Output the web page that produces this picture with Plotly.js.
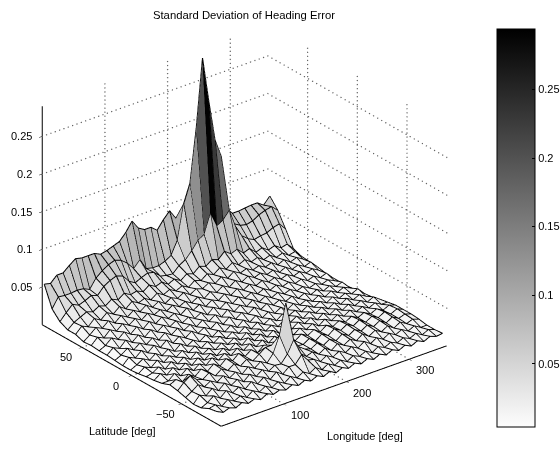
<!DOCTYPE html>
<html><head><meta charset="utf-8">
<script src="https://cdn.plot.ly/plotly-3.0.1.min.js"></script>
<style>html,body{margin:0;padding:0;background:#fff}</style></head>
<body><div id="chart" style="width:560px;height:452px"></div>
<script>
const longitude = [0,10,20,30,40,50,60,70,80,90,100,110,120,130,140,150,160,170,180,190,200,210,220,230,240,250,260,270,280,290,300,310,320,330,340,350,360];
const latitude = [88,80.1,72.2,64.3,56.4,48.5,40.6,32.7,24.8,16.9,9,1.1,-6.8,-14.7,-22.6,-30.5,-38.4,-46.3,-54.2,-62.1,-70,-77.9,-85.8];
const R00 = [.055,.053,.061,.061,.068,.074,.072,.072,.072,.068,.070,.073,.076,.085,.097,.085,.080,.080,.073,.084,.093,.080,.090,.100,.105,.100,.090,.075,.090,.070,.060,.060,.061,.062,.062,.056,.065];
const R01 = [.028,.041,.040,.040,.041,.040,.036,.048,.055,.060,.063,.060,.053,.043,.052,.037,.035,.035,.038,.043,.060,.105,.130,.200,.290,.230,.175,.150,.075,.055,.050,.048,.050,.055,.058,.060,.052];
const R02 = [.017,.026,.034,.030,.033,.037,.034,.043,.048,.051,.048,.038,.033,.037,.040,.038,.030,.028,.027,.035,.040,.049,.060,.065,.090,.070,.075,.085,.060,.045,.038,.034,.036,.037,.041,.043,.033];
const R03 = [.012,.019,.023,.027,.024,.029,.026,.032,.028,.034,.029,.031,.027,.033,.028,.031,.025,.029,.024,.030,.027,.034,.031,.037,.034,.042,.036,.039,.031,.034,.026,.029,.023,.026,.020,.022,.013];
const R04 = [.012,.020,.016,.024,.019,.026,.021,.028,.022,.029,.024,.027,.022,.028,.023,.027,.022,.026,.021,.027,.024,.030,.026,.032,.027,.033,.027,.031,.025,.028,.022,.025,.019,.022,.016,.018,.009];
const R05 = [.008,.014,.021,.017,.024,.018,.025,.020,.026,.021,.027,.021,.026,.020,.025,.021,.026,.020,.025,.022,.027,.023,.029,.024,.030,.025,.028,.023,.026,.021,.024,.018,.022,.016,.019,.014,.008];
const R06 = [.009,.017,.013,.021,.016,.023,.018,.024,.019,.025,.020,.024,.019,.024,.019,.023,.018,.023,.018,.024,.020,.026,.021,.027,.022,.027,.022,.025,.020,.023,.017,.021,.015,.018,.013,.016,.007];
const R07 = [.008,.012,.019,.014,.021,.015,.022,.016,.023,.017,.023,.018,.022,.017,.023,.017,.022,.016,.022,.018,.024,.019,.025,.020,.025,.020,.024,.019,.022,.017,.020,.015,.018,.013,.016,.011,.005];
const R08 = [.008,.015,.011,.019,.013,.020,.014,.021,.015,.021,.016,.021,.015,.020,.015,.020,.014,.021,.016,.022,.017,.023,.018,.023,.018,.022,.017,.021,.016,.019,.014,.017,.012,.015,.010,.013,.004];
const R09 = [.007,.011,.017,.012,.018,.013,.019,.013,.020,.014,.020,.014,.019,.013,.019,.014,.020,.014,.021,.015,.021,.016,.022,.016,.021,.016,.020,.015,.018,.013,.016,.011,.014,.010,.013,.009,.004];
const R10 = [.006,.014,.010,.017,.011,.018,.012,.019,.012,.018,.013,.019,.013,.018,.013,.019,.013,.020,.014,.020,.015,.021,.015,.020,.015,.019,.014,.018,.012,.016,.011,.015,.010,.014,.010,.013,.004];
const R11 = [.006,.010,.015,.010,.016,.010,.016,.010,.017,.011,.016,.011,.017,.011,.017,.012,.018,.012,.019,.013,.019,.013,.018,.013,.018,.012,.017,.012,.016,.011,.016,.011,.016,.011,.015,.011,.006];
const R12 = [.007,.013,.009,.016,.010,.016,.011,.017,.011,.017,.011,.017,.012,.018,.012,.018,.013,.019,.013,.019,.013,.018,.012,.018,.013,.017,.012,.017,.012,.017,.012,.017,.012,.016,.012,.016,.007];
const R13 = [.009,.011,.016,.010,.017,.011,.017,.011,.018,.012,.017,.012,.018,.013,.019,.013,.020,.014,.019,.013,.018,.013,.019,.013,.018,.012,.018,.013,.018,.013,.018,.013,.018,.013,.017,.012,.008];
const R14 = [.010,.016,.011,.018,.012,.018,.012,.019,.013,.019,.013,.020,.014,.021,.015,.022,.015,.021,.014,.020,.013,.019,.013,.019,.014,.019,.013,.019,.014,.019,.014,.019,.014,.018,.013,.017,.011];
const R15 = [.012,.012,.019,.013,.020,.014,.020,.015,.022,.016,.022,.016,.023,.017,.023,.016,.022,.015,.021,.014,.020,.014,.020,.015,.020,.014,.020,.015,.020,.015,.020,.015,.019,.014,.018,.013,.013];
const R16 = [.016,.020,.014,.021,.015,.022,.016,.023,.017,.024,.018,.025,.018,.024,.017,.024,.017,.023,.016,.021,.015,.021,.016,.021,.015,.021,.016,.021,.016,.021,.016,.020,.015,.019,.014,.018,.015];
const R17 = [.014,.022,.028,.020,.017,.023,.016,.022,.017,.023,.017,.023,.018,.024,.030,.030,.030,.032,.022,.017,.016,.021,.015,.021,.016,.022,.017,.022,.017,.022,.016,.021,.016,.021,.015,.019,.015];
const R18 = [.011,.016,.022,.016,.021,.016,.022,.016,.021,.015,.022,.017,.023,.018,.028,.049,.089,.040,.025,.019,.016,.021,.015,.020,.015,.021,.016,.021,.016,.021,.016,.021,.015,.020,.015,.018,.015];
const R19 = [.008,.017,.013,.020,.014,.021,.015,.020,.014,.021,.015,.021,.016,.021,.020,.030,.046,.025,.018,.021,.015,.020,.014,.020,.015,.020,.015,.021,.015,.020,.015,.020,.014,.019,.014,.017,.014];
const R20 = [.009,.013,.019,.013,.020,.014,.019,.013,.020,.014,.020,.014,.021,.015,.022,.022,.032,.022,.020,.014,.019,.014,.019,.014,.019,.014,.020,.014,.019,.014,.019,.014,.018,.013,.017,.012,.012];
const R21 = [.014,.016,.011,.017,.012,.016,.011,.017,.012,.017,.012,.017,.012,.018,.013,.018,.013,.018,.012,.017,.012,.016,.011,.016,.012,.016,.011,.016,.012,.016,.012,.016,.012,.016,.011,.015,.012];
const R22 = [.016,.012,.015,.012,.016,.012,.015,.011,.016,.012,.015,.012,.016,.012,.016,.012,.016,.012,.016,.011,.015,.011,.015,.011,.015,.011,.015,.011,.015,.011,.015,.011,.015,.011,.015,.012,.013];
const lonTicks = [100,200,300];
const latTicks = [50,0,-50];
const latTickText = ['50','0','\u221250'];
const zTicks = [0.05,0.1,0.15,0.2,0.25];
const zTickText = ['0.05','0.1','0.15','0.2','0.25'];
const lonRange = [0,360], latRange = [-90,90], zRange = [0,0.29];
const barTicks = [0.05,0.1,0.15,0.2,0.25];
const errGrid = [R00,R01,R02,R03,R04,R05,R06,R07,R08,R09,R10,R11,R12,R13,R14,R15,R16,R17,R18,R19,R20,R21,R22];

// dotted walls and floor, made of tiny dots
const gx=[],gy=[],gz=[];
function dots(a,b,n){for(let i=0;i<=n;i++){const t=i/n;gx.push(a[0]+(b[0]-a[0])*t);gy.push(a[1]+(b[1]-a[1])*t);gz.push(a[2]+(b[2]-a[2])*t);}}
const L0=lonRange[0],L1=lonRange[1],A0=latRange[0],A1=latRange[1],Z0=zRange[0],Z1=zRange[1];
zTicks.forEach(z=>{dots([L0,A1,z],[L1,A1,z],52);dots([L1,A1,z],[L1,A0,z],44);});
lonTicks.forEach(x=>{dots([x,A1,Z0],[x,A1,Z1],54);dots([x,A0,Z0],[x,A1,Z0],44);});
latTicks.forEach(y=>{dots([L1,y,Z0],[L1,y,Z1],54);dots([L0,y,Z0],[L1,y,Z0],52);});
const gridTrace={type:'scatter3d',mode:'markers',x:gx,y:gy,z:gz,hoverinfo:'skip',showlegend:false,
  marker:{color:'#666',size:0.8,line:{width:0}}};
// box edges
const fx=[],fy=[],fz=[];
function edge(a,b){fx.push(a[0],b[0],null);fy.push(a[1],b[1],null);fz.push(a[2],b[2],null);}
edge([L0,A0,Z0],[L1,A0,Z0]);edge([L0,A0,Z0],[L0,A1,Z0]);edge([L0,A1,Z0],[L0,A1,Z1]);
const frameTrace={type:'scatter3d',mode:'lines',x:fx,y:fy,z:fz,hoverinfo:'skip',showlegend:false,
  line:{color:'#000',width:2}};
// flat-coloured quads: vertices, two triangles per cell, one intensity per triangle
const vx=[],vy=[],vz=[],ti=[],tj=[],tk=[],cellValue=[];
const nLat=latitude.length,nLon=longitude.length;
latitude.forEach((la,r)=>longitude.forEach((lo,c)=>{vx.push(lo);vy.push(la);vz.push(errGrid[r][c]);}));
for(let r=0;r<nLat-1;r++)for(let c=0;c<nLon-1;c++){
  const a=r*nLon+c,b=a+1,d=a+nLon,e=d+1;
  ti.push(a,b);tj.push(b,e);tk.push(d,d);
  cellValue.push(errGrid[r][c],errGrid[r][c]);
}
const surf={type:'mesh3d',x:vx,y:vy,z:vz,i:ti,j:tj,k:tk,intensity:cellValue,intensitymode:'cell',cmin:0.004,cmax:0.294,
  colorscale:[[0,'#fdfdfd'],[1,'#000000']],flatshading:true,
  lighting:{ambient:1,diffuse:0,specular:0,roughness:1,fresnel:0},
  hoverinfo:'skip',
  colorbar:{x:497/560,xanchor:'left',y:(452-228)/452,yanchor:'middle',thicknessmode:'pixels',thickness:38,
    lenmode:'pixels',len:398,xpad:0,ypad:0,outlinecolor:'#000',outlinewidth:1,
    tickvals:barTicks,ticktext:barTicks.map(String),ticks:'inside',ticklen:3,tickcolor:'#000',
    tickfont:{family:'Liberation Sans',size:11,color:'#000'}}};
// mesh edges along both grid directions
const mx=[],my=[],mz=[];
const lift=0.0004;
latitude.forEach((la,r)=>{longitude.forEach((lo,c)=>{mx.push(lo);my.push(la);mz.push(errGrid[r][c]+lift);});mx.push(null);my.push(null);mz.push(null);});
longitude.forEach((lo,c)=>{latitude.forEach((la,r)=>{mx.push(lo);my.push(la);mz.push(errGrid[r][c]+lift);});mx.push(null);my.push(null);mz.push(null);});
const meshTrace={type:'scatter3d',mode:'lines',x:mx,y:my,z:mz,hoverinfo:'skip',showlegend:false,
  connectgaps:false,line:{color:'#000',width:2}};
const font={family:'Liberation Sans',size:11,color:'#000'};
const ann=[];
lonTicks.forEach(x=>ann.push({x:x,y:A0,z:Z0,text:String(x),showarrow:false,xshift:16,yshift:-11,font:font}));
latTicks.forEach((y,i)=>ann.push({x:L0,y:y,z:Z0,text:latTickText[i],showarrow:false,xshift:-16,yshift:-10,font:font}));
zTicks.forEach((z,i)=>ann.push({x:L0,y:A1,z:z,text:zTickText[i],showarrow:false,xanchor:'right',xshift:-8,yshift:0,font:font}));
const axisOf=(r,t)=>({range:r,autorange:false,showgrid:false,zeroline:false,showbackground:false,showspikes:false,
  showline:false,ticks:'outside',ticklen:4,tickwidth:1,tickcolor:'#000',tickmode:'array',tickvals:t,showticklabels:false,title:{text:''}});
const layout={width:560,height:452,margin:{l:0,r:0,t:0,b:0,autoexpand:false},paper_bgcolor:'#fff',showlegend:false,
  title:{text:'Standard Deviation of Heading Error',x:244/560,xanchor:'center',y:1-15/452,yanchor:'middle',font:{family:'Liberation Sans',size:11.3,color:'#000'}},
  scene:{domain:{x:[0,489/560],y:[0,1]},
    aspectmode:'manual',aspectratio:{x:1.274,y:1.274,z:1.083},
    camera:{projection:{type:'orthographic'},eye:{x:-1.11,y:-1.40,z:0.90},up:{x:0,y:0,z:1},center:{x:0,y:0,z:0}},
    xaxis:axisOf(lonRange,lonTicks),yaxis:axisOf(latRange,latTicks),zaxis:axisOf(zRange,zTicks),
    annotations:ann},
  annotations:[
    {xref:'paper',yref:'paper',x:87/560,y:1-439/452,text:'Latitude [deg]',showarrow:false,font:font},
    {xref:'paper',yref:'paper',x:365/560,y:1-444/452,text:'Longitude [deg]',showarrow:false,font:font}]};
Plotly.newPlot('chart',[surf,gridTrace,meshTrace,frameTrace],layout,{displayModeBar:false});
</script></body></html>
